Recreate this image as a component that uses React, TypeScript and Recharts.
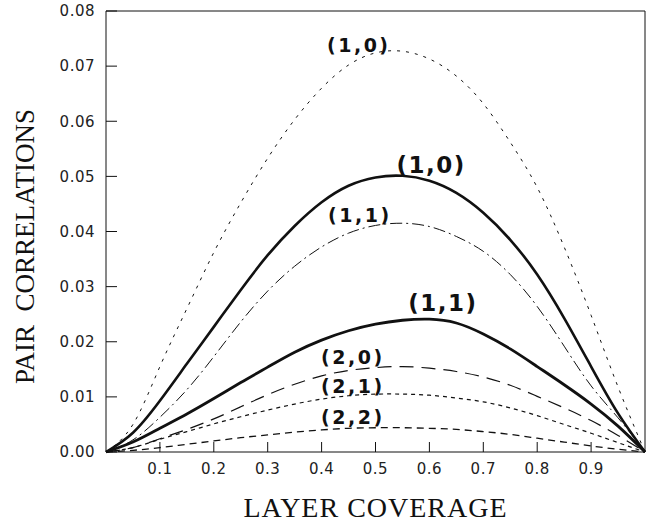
import { LineChart, Line, XAxis, YAxis, ReferenceLine, ReferenceDot, Label } from 'recharts'

// coverage grid (x)
const coverage = [0, 0.05, 0.1, 0.15, 0.2, 0.25, 0.3, 0.35, 0.4, 0.45, 0.5, 0.55, 0.6, 0.65, 0.7, 0.75, 0.8, 0.85, 0.9, 0.95, 1]

// pair correlations
const dotted10 = [0, 0.005, 0.0155, 0.026, 0.0362, 0.0452, 0.0533, 0.0603, 0.066, 0.0702, 0.0724, 0.0727, 0.0713, 0.0682, 0.0632, 0.0562, 0.048, 0.0372, 0.0248, 0.0118, 0]
const thick10 = [0, 0.0035, 0.0093, 0.016, 0.0227, 0.0294, 0.0357, 0.041, 0.0453, 0.0483, 0.0498, 0.0501, 0.0492, 0.047, 0.0434, 0.0385, 0.0322, 0.0243, 0.0155, 0.007, 0]
const dashDot11 = [0, 0.0022, 0.0063, 0.0113, 0.0173, 0.0236, 0.0292, 0.0337, 0.0372, 0.0397, 0.0411, 0.0415, 0.0409, 0.0391, 0.0364, 0.0322, 0.0264, 0.0192, 0.012, 0.0062, 0]
const thick11 = [0, 0.0018, 0.0043, 0.0069, 0.0097, 0.0126, 0.0154, 0.0181, 0.0203, 0.022, 0.0232, 0.0239, 0.0241, 0.0234, 0.0214, 0.0187, 0.0155, 0.0122, 0.0087, 0.0047, 0]
const longDash20 = [0, 0.0008, 0.0024, 0.0041, 0.006, 0.0082, 0.0104, 0.0123, 0.0138, 0.0148, 0.0153, 0.0155, 0.0152, 0.0146, 0.0136, 0.0121, 0.0101, 0.008, 0.0057, 0.003, 0]
const shortDash21 = [0, 0.0008, 0.0023, 0.0037, 0.0051, 0.0064, 0.0076, 0.0087, 0.0096, 0.0102, 0.0105, 0.0105, 0.0103, 0.0098, 0.0091, 0.008, 0.0066, 0.005, 0.0034, 0.0017, 0]
const dash22 = [0, 0.0003, 0.0008, 0.0014, 0.002, 0.0026, 0.0031, 0.0036, 0.004, 0.0043, 0.0044, 0.0044, 0.0043, 0.0041, 0.0037, 0.0032, 0.0025, 0.0018, 0.0011, 0.0005, 0]

const xTicks = [0.1, 0.2, 0.3, 0.4, 0.5, 0.6, 0.7, 0.8, 0.9]
const yTicks = [0, 0.01, 0.02, 0.03, 0.04, 0.05, 0.06, 0.07, 0.08]

// curve labels: [text, coverage, value, size]
const curveLabels: [string, number, number, number][] = [
  ['(1,0)', 0.469, 0.0738, 19],
  ['(1,0)', 0.603, 0.0521, 23],
  ['(1,1)', 0.471, 0.043, 19],
  ['(1,1)', 0.625, 0.027, 23],
  ['(2,0)', 0.458, 0.0172, 19],
  ['(2,1)', 0.458, 0.012, 19],
  ['(2,2)', 0.458, 0.00635, 19],
]

const data = coverage.map((c, i) => ({
  coverage: c,
  dotted10: dotted10[i],
  thick10: thick10[i],
  dashDot11: dashDot11[i],
  thick11: thick11[i],
  longDash20: longDash20[i],
  shortDash21: shortDash21[i],
  dash22: dash22[i],
}))

const INK = '#111'
const TICK_FONT = { fontSize: 15, fill: '#222', fontFamily: 'DejaVu Sans', letterSpacing: 0.5 }
const TITLE_FONT = 'Liberation Serif'

const curveLabel = (text: string, size: number) => (props: any) => {
  const { viewBox } = props
  const cx = viewBox.x + (viewBox.width || 0) / 2
  const cy = viewBox.y + (viewBox.height || 0) / 2
  return (
    <text
      x={cx}
      y={cy}
      textAnchor="middle"
      dominantBaseline="central"
      fontFamily="DejaVu Sans"
      fontWeight="bold"
      fontSize={size}
      letterSpacing={size > 20 ? 1.5 : 2.5}
      fill={INK}
    >
      {text}
    </text>
  )
}

const YTitle = (props: any) => {
  const { viewBox } = props
  const cx = viewBox.x + 25
  const cy = viewBox.y + viewBox.height / 2 + 15
  return (
    <text
      x={cx}
      y={cy}
      transform={`rotate(-90 ${cx} ${cy})`}
      textAnchor="middle"
      dominantBaseline="central"
      fontFamily={TITLE_FONT}
      fontSize={27}
      fill={INK}
      style={{ whiteSpace: 'pre' }}
    >
      {'PAIR  CORRELATIONS'}
    </text>
  )
}

export default function App() {
  return (
    <div style={{ width: 653, height: 523, background: '#fff' }}>
      <style>{'body{margin:0}'}</style>
      <LineChart width={653} height={523} data={data} margin={{ top: 11, right: 7, bottom: 0, left: 0 }}>
        <XAxis
          dataKey="coverage"
          type="number"
          domain={[0, 1]}
          ticks={xTicks}
          height={71}
          stroke={INK}
          tickSize={-10}
          tickMargin={21}
          tick={TICK_FONT}
          tickFormatter={(v: number) => v.toFixed(1)}
        >
          <Label
            value="LAYER COVERAGE"
            position="insideBottom"
            offset={6}
            style={{ fontFamily: TITLE_FONT, fontSize: 28, fill: INK, letterSpacing: 1 }}
          />
        </XAxis>
        <YAxis
          yAxisId="left"
          type="number"
          domain={[0, 0.08]}
          ticks={yTicks}
          width={106}
          stroke={INK}
          tickSize={-11}
          tickMargin={22}
          tick={TICK_FONT}
          tickFormatter={(v: number) => v.toFixed(2)}
        >
          <Label content={YTitle} />
        </YAxis>
        <YAxis
          yAxisId="right"
          orientation="right"
          type="number"
          domain={[0, 0.08]}
          ticks={yTicks}
          width={1}
          stroke={INK}
          tickSize={-10}
          tick={false}
        />
        <ReferenceLine yAxisId="left" y={0.08} stroke={INK} strokeWidth={1} />

        <Line yAxisId="left" type="natural" dataKey="dotted10" stroke={INK} strokeWidth={1} strokeDasharray="3 6" dot={false} isAnimationActive={false} />
        <Line yAxisId="left" type="natural" dataKey="thick10" stroke={INK} strokeWidth={2.6} dot={false} isAnimationActive={false} />
        <Line yAxisId="left" type="natural" dataKey="dashDot11" stroke={INK} strokeWidth={1} strokeDasharray="12 4 2 4" dot={false} isAnimationActive={false} />
        <Line yAxisId="left" type="natural" dataKey="thick11" stroke={INK} strokeWidth={2.8} dot={false} isAnimationActive={false} />
        <Line yAxisId="left" type="natural" dataKey="longDash20" stroke={INK} strokeWidth={1.2} strokeDasharray="14 8" dot={false} isAnimationActive={false} />
        <Line yAxisId="left" type="natural" dataKey="shortDash21" stroke={INK} strokeWidth={1.2} strokeDasharray="4 4" dot={false} isAnimationActive={false} />
        <Line yAxisId="left" type="natural" dataKey="dash22" stroke={INK} strokeWidth={1.3} strokeDasharray="7 5" dot={false} isAnimationActive={false} />

        {curveLabels.map(([text, x, y, size], i) => (
          <ReferenceDot
            key={`lbl-${i}`}
            yAxisId="left"
            x={x}
            y={y}
            r={0}
            fill="none"
            stroke="none"
            label={{ content: curveLabel(text, size) }}
          />
        ))}
      </LineChart>
    </div>
  )
}
